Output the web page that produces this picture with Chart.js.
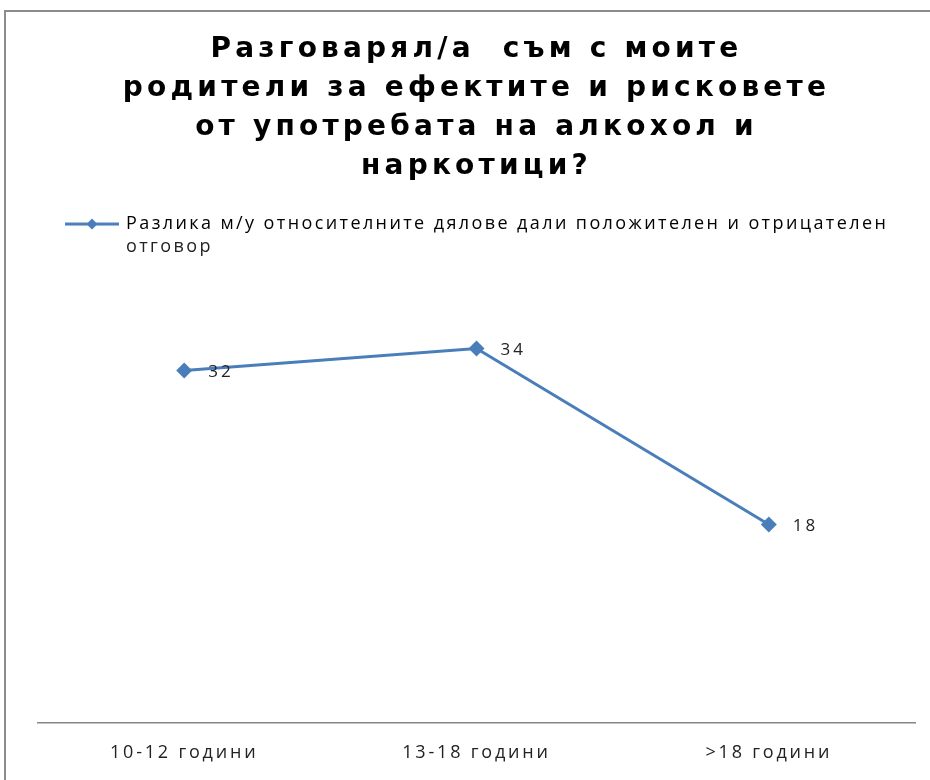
<!DOCTYPE html>
<html>
<head>
<meta charset="utf-8">
<script src="https://cdn.jsdelivr.net/npm/chart.js@4"></script>
<style>
  html, body { margin: 0; padding: 0; background: #fff; }
  #wrap { position: relative; width: 930px; height: 780px; }
  #frame { position: absolute; left: 4px; top: 10px; right: 0; bottom: 0;
           border-top: 2px solid #8c8c8c; border-left: 2px solid #8c8c8c; }
  #chart { position: absolute; left: 0; top: 0; }
</style>
</head>
<body>
<div id="wrap">
  <div id="frame"></div>
  <canvas id="chart" width="930" height="780"></canvas>
</div>
<script>
const titleLines = [
  "Разговарял/а  съм с моите",
  "родители за ефектите и рисковете",
  "от употребата на алкохол и",
  "наркотици?"
];
const categories = ["10-12 години", "13-18 години", ">18 години"];
const differenceValues = [32, 34, 18];
const seriesLabel = [
  "Разлика м/у относителните дялове дали положителен и отрицателен",
  "отговор"
];

const lineColor = "#4a7ebb";
const fontFamily = "'Open Sans', 'Noto Sans', sans-serif";
const legendFont = { family: fontFamily, size: 18, lineHeight: 1.28 };

// line + diamond used as the legend marker
function legendMarker() {
  const c = document.createElement("canvas");
  c.width = 54;
  c.height = 14;
  const g = c.getContext("2d");
  g.strokeStyle = lineColor;
  g.lineWidth = 3;
  g.beginPath();
  g.moveTo(0, 7);
  g.lineTo(54, 7);
  g.stroke();
  g.fillStyle = lineColor;
  g.beginPath();
  g.moveTo(27, 1.5);
  g.lineTo(32.5, 7);
  g.lineTo(27, 12.5);
  g.lineTo(21.5, 7);
  g.closePath();
  g.fill();
  return c;
}

// the source picture has wide, loosely set text
function spaceOut(chart, box, value) {
  const draw = box.draw.bind(box);
  box.draw = (area) => {
    const prev = chart.ctx.letterSpacing;
    chart.ctx.letterSpacing = value;
    draw(area);
    chart.ctx.letterSpacing = prev;
  };
}

const spacing = {
  id: "spacing",
  afterInit(chart) {
    spaceOut(chart, chart.titleBlock, "4.2px");
    spaceOut(chart, chart.legend, "2.4px");
  },
  beforeDraw(chart) {
    chart.ctx.letterSpacing = "2.8px";
  },
  beforeDatasetsDraw(chart) {
    chart.ctx.letterSpacing = "0px";
  }
};

// second line of the legend text, under the first one
const legendWrap = {
  id: "legendWrap",
  afterDraw(chart) {
    const legend = chart.legend;
    const hb = legend.legendHitBoxes[0];
    if (!hb) return;
    const labels = legend.options.labels;
    const ctx = chart.ctx;
    ctx.save();
    ctx.letterSpacing = "2.4px";
    ctx.font = legendFont.size + "px " + fontFamily;
    ctx.fillStyle = labels.color;
    ctx.textAlign = "left";
    ctx.textBaseline = "middle";
    const x = hb.left + labels.pointStyleWidth + legendFont.size / 2;
    const y = hb.top + legendFont.size / 2 + legendFont.size * legendFont.lineHeight;
    seriesLabel.slice(1).forEach((line, i) => {
      ctx.fillText(line, x, y + i * legendFont.size * legendFont.lineHeight);
    });
    ctx.restore();
  }
};

const valueLabels = {
  id: "valueLabels",
  afterDatasetsDraw(chart) {
    const ctx = chart.ctx;
    const meta = chart.getDatasetMeta(0);
    ctx.save();
    ctx.letterSpacing = "3px";
    ctx.font = "17px " + fontFamily;
    ctx.fillStyle = "#222";
    ctx.textAlign = "left";
    ctx.textBaseline = "middle";
    meta.data.forEach((pt, i) => {
      ctx.fillText(String(differenceValues[i]), pt.x + 24, pt.y + 2);
    });
    ctx.restore();
  }
};

new Chart(document.getElementById("chart"), {
  type: "line",
  data: {
    labels: categories,
    datasets: [{
      label: seriesLabel.join(" "),
      data: differenceValues,
      borderColor: lineColor,
      backgroundColor: lineColor,
      borderWidth: 3,
      tension: 0,
      pointStyle: "rectRot",
      pointRadius: 8,
      pointBackgroundColor: lineColor,
      pointBorderColor: lineColor,
      pointBorderWidth: 0,
      fill: false
    }]
  },
  options: {
    responsive: false,
    animation: false,
    layout: {
      padding: { top: 0, bottom: -4, left: 38, right: 15 }
    },
    plugins: {
      title: {
        display: true,
        text: titleLines,
        color: "#000",
        font: { family: "'DejaVu Sans', sans-serif", size: 28, weight: "700", lineHeight: 1.393 },
        padding: { top: 30, bottom: 0 }
      },
      legend: {
        display: true,
        position: "top",
        align: "start",
        labels: {
          usePointStyle: true,
          pointStyleWidth: 50,
          padding: 29,
          color: "#222",
          font: legendFont,
          generateLabels: () => [{
            text: seriesLabel[0],
            pointStyle: legendMarker(),
            fillStyle: lineColor,
            strokeStyle: lineColor,
            lineWidth: 0,
            hidden: false,
            datasetIndex: 0
          }]
        }
      },
      tooltip: { enabled: false }
    },
    scales: {
      x: {
        offset: true,
        grid: { display: false, drawTicks: false },
        border: { display: true, color: "#868686", width: 1.5 },
        ticks: {
          color: "#222",
          padding: 20,
          maxRotation: 0,
          font: { family: fontFamily, size: 18 }
        }
      },
      y: {
        display: false,
        min: 0,
        max: 43.6
      }
    }
  },
  plugins: [spacing, legendWrap, valueLabels]
});
</script>
</body>
</html>
